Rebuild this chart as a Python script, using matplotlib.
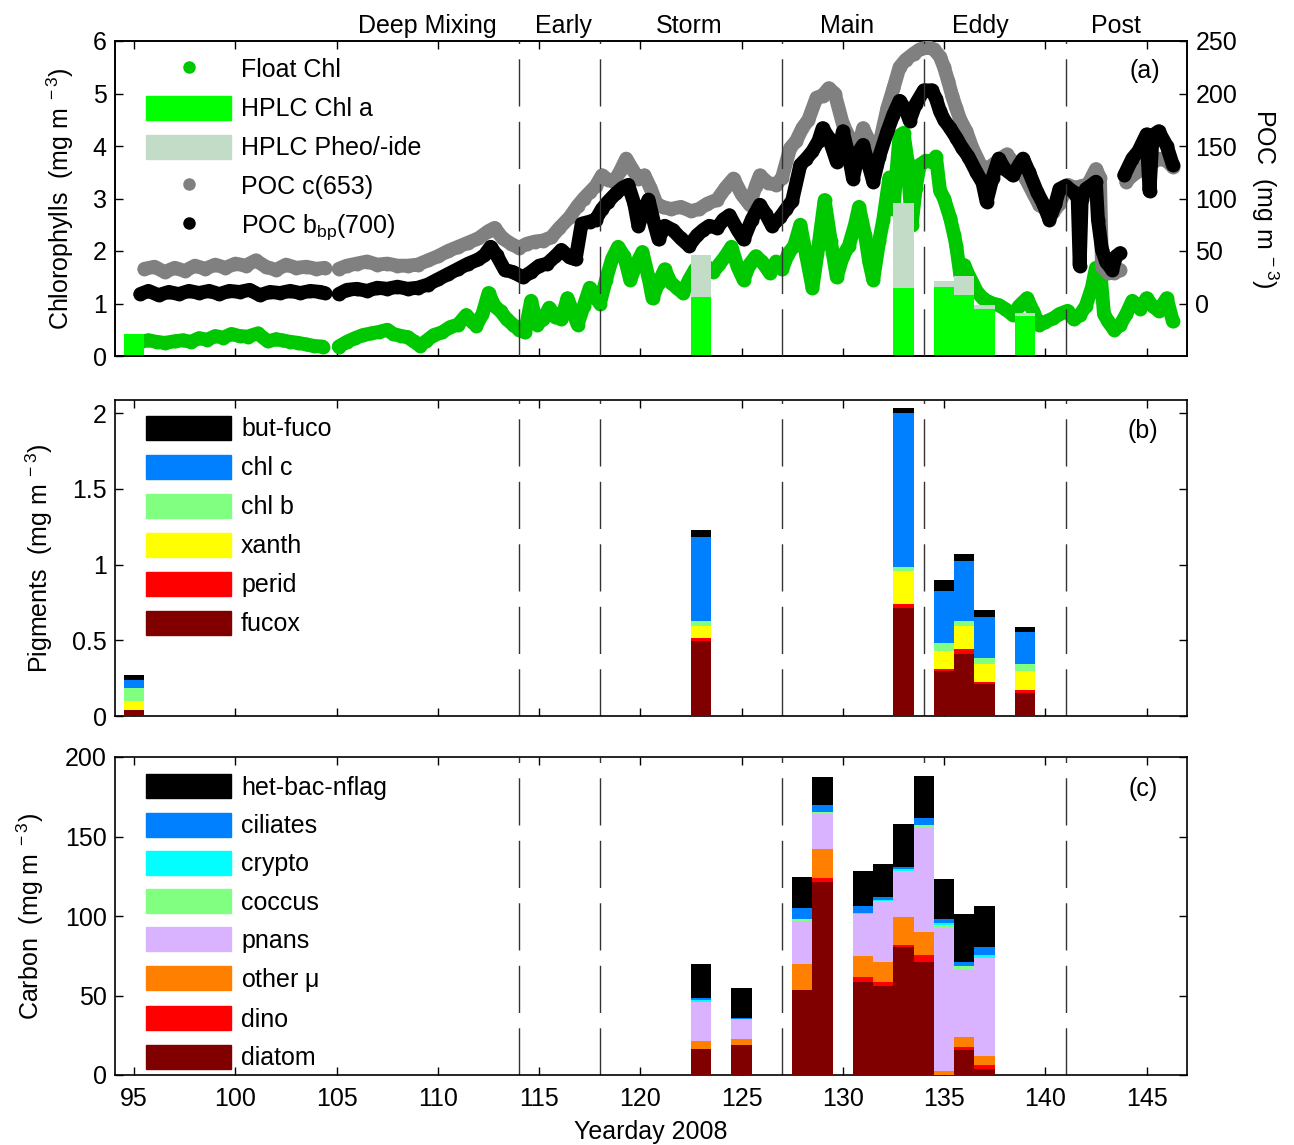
import numpy as np
import matplotlib
matplotlib.use("Agg")
import matplotlib.pyplot as plt
from matplotlib.patches import Patch
from matplotlib.lines import Line2D
from matplotlib.ticker import FuncFormatter
import matplotlib.transforms as mtransforms

plt.rcParams["font.family"] = ["Liberation Sans", "DejaVu Sans"]
plt.rcParams["mathtext.fontset"] = "custom"
plt.rcParams["mathtext.rm"] = "Liberation Sans"
plt.rcParams["mathtext.it"] = "Liberation Sans:italic"
plt.rcParams["mathtext.default"] = "regular"
plt.rcParams["font.size"] = 18

nan = float("nan")

# ---------------- float time series (panel a) ----------------
float_day = [95.3, 95.7, 96.1, 96.5, 97.0, 97.4, 97.8, 98.2, 98.6, 99.0, 99.4, 99.8,
             100.2, 100.6, 101.1, 101.6, 102.0, 102.3, 102.7, 103.1, 103.5, 103.9, 104.3,
             104.7,
             105.1, 105.5, 105.9, 106.3, 106.7, 107.1, 107.5, 107.8, 108.2, 108.5, 108.8,
             109.1, 109.4, 109.8, 110.2, 110.6, 111.0, 111.4, 111.7, 111.9, 112.2, 112.5,
             112.8, 113.1, 113.4, 113.7, 114.0, 114.3, 114.6, 114.9, 115.2, 115.5, 115.8,
             116.1, 116.4, 116.7, 116.9, 117.2, 117.5, 117.8, 118.0, 118.3, 118.6, 118.9,
             119.2, 119.5, 119.8, 120.1, 120.4, 120.6, 120.9, 121.2, 121.5, 121.8, 122.1,
             122.4, 122.7, 123.0, 123.3, 123.6, 123.9, 124.2, 124.5, 124.8, 125.1, 125.4,
             125.7, 126.0, 126.4, 126.7, 127.0, 127.3, 127.6, 127.9, 128.2, 128.5, 128.8,
             129.1, 129.4, 129.7, 130.0, 130.3, 130.6, 130.8, 131.1, 131.3, 131.5, 131.8,
             132.0, 132.3, 132.5, 132.8, 133.0, 133.2, 133.4, 133.6, 133.8, 134.1, 134.4,
             134.6, 134.8, 135.0, 135.3, 135.5, 135.6, 135.8, 136.0, 136.2, 136.4, 136.6,
             136.9, 137.1, 137.4, 137.7, 138.0, 138.4, 138.7, 139.1, 139.4, 139.7, 140.0,
             140.4, 140.7, 141.1, 141.4, 141.7, 142.0, 142.3, 142.5, 142.7, 142.9, 143.1,
             143.4, 143.7, 144.0, 144.3, 144.7, 145.0, 145.3, 145.6, 146.0, 146.3]
float_chl = [0.27, 0.30, 0.27, 0.25, 0.28, 0.30, 0.27, 0.34, 0.31, 0.38, 0.35, 0.42,
             0.38, 0.37, 0.43, 0.28, 0.32, 0.30, 0.27, 0.25, 0.22, 0.19, 0.18,
             nan,
             0.18, 0.27, 0.34, 0.40, 0.43, 0.46, 0.50, 0.42, 0.38, 0.36, 0.28,
             0.20, 0.28, 0.40, 0.45, 0.55, 0.60, 0.78, 0.65, 0.58, 0.80, 1.20,
             0.95, 0.85, 0.70, 0.60, 0.50, 0.45, 1.05, 0.60, 0.70, 0.92, 0.75,
             0.70, 1.10, 0.80, 0.60, 0.95, 1.30, 1.10, 1.00, 1.45, 1.85, 2.08,
             1.90, 1.45, 1.75, 1.98, 1.50, 1.10, 1.40, 1.65, 1.40, 1.30, 1.20,
             1.45, 1.65, 1.50, 1.70, 1.60, 1.75, 1.90, 2.08, 1.70, 1.45, 1.75,
             1.90, 1.80, 1.58, 1.80, 1.65, 1.95, 2.10, 2.50, 1.90, 1.30, 2.10,
             2.97, 2.20, 1.50, 1.90, 2.10, 2.50, 2.84, 2.30, 1.80, 1.45, 2.20,
             2.60, 3.40, 2.80, 4.20, 4.25, 3.70, 2.50, 3.20, 3.64, 3.72, 3.70,
             3.80, 3.15, 3.00, 2.63, 2.30, 2.10, 1.55, 1.73, 1.55, 1.40, 1.24,
             1.10, 1.05, 1.00, 0.97, 0.90, 0.78, 0.95, 1.10, 0.85, 0.59, 0.65,
             0.72, 0.80, 0.86, 0.70, 0.78, 0.95, 1.30, 1.68, 1.70, 0.80, 0.66,
             0.50, 0.59, 0.80, 1.05, 0.90, 1.10, 0.95, 0.86, 1.10, 0.66]

poc_c_day = [95.5, 96.0, 96.5, 97.0, 97.5, 98.0, 98.5, 99.0, 99.5, 100.0, 100.5, 101.0,
             101.5, 102.0, 102.5, 103.0, 103.5, 104.0, 104.4, 104.7,
             105.1, 105.5, 106.0, 106.5, 107.0, 107.5, 108.0, 108.5, 109.0, 109.5, 110.0,
             110.5, 111.0, 111.5, 112.0, 112.5, 112.8, 113.2, 113.6, 114.0, 114.4, 114.8,
             115.2, 115.6, 116.0, 116.5, 116.9, 117.2, 117.5, 117.8, 118.1, 118.4, 118.7,
             119.0, 119.3, 119.6, 119.9, 120.2, 120.5, 120.8, 121.1, 121.5, 122.0, 122.5,
             122.9, 123.3, 123.8, 124.2, 124.6, 125.0, 125.4, 125.7, 125.9, 126.3, 126.7,
             127.0, 127.4, 127.7, 128.0, 128.3, 128.7, 129.0, 129.3, 129.6, 130.0, 130.4,
             130.7, 131.0, 131.3, 131.6, 131.9, 132.2, 132.5, 132.8, 133.1, 133.5, 133.8,
             134.2, 134.5, 134.8, 135.0, 135.2, 135.4, 135.6, 135.8, 136.1, 136.4, 136.8,
             137.1, 137.4, 137.8, 138.1, 138.4, 138.7, 139.0, 139.4, 139.7, 140.0, 140.4,
             140.7, 141.1, 141.5, 141.8, 142.1, 142.5, 142.7, 142.8, 143.1, 143.4, 143.7,
             143.85,
             144.0, 144.3, 144.7, 145.0, 145.3, 145.6, 146.0, 146.3]
poc_c = [33, 35, 30, 34, 31, 36, 33, 37, 34, 38, 36, 41,
         35, 32, 37, 34, 35, 33, 34, nan,
         33, 36, 38, 40, 37, 38, 36, 36, 37, 41, 45,
         50, 54, 58, 62, 69, 72, 62, 57, 53, 57, 59,
         60, 63, 72, 82, 93, 100, 106, 112, 122, 118, 116,
         126, 138, 128, 119, 122, 110, 95, 92, 90, 92, 88,
         90, 95, 99, 110, 119, 104, 94, 112, 122, 115, 113,
         120, 148, 155, 167, 175, 196, 198, 205, 200, 171, 155,
         145, 167, 155, 140, 160, 186, 205, 225, 232, 238, 242,
         244, 242, 235, 225, 212, 198, 186, 175, 164, 148, 132,
         128, 132, 138, 142, 135, 132, 120, 105, 94, 90, 87,
         95, 113, 110, 112, 113, 128, 120, 35, 29, 29, 32,
         nan,
         116, 122, 127, 133, 135, 138, 136, 130]

poc_b_day = [95.3, 95.7, 96.2, 96.7, 97.2, 97.7, 98.2, 98.7, 99.2, 99.7, 100.2, 100.7,
             101.2, 101.7, 102.2, 102.7, 103.2, 103.7, 104.2, 104.4, 104.7,
             105.1, 105.5, 106.0, 106.5, 107.0, 107.5, 108.0, 108.5, 109.0, 109.5, 110.0,
             110.5, 111.0, 111.5, 112.0, 112.3, 112.6, 112.9, 113.3, 113.7, 114.2, 114.6,
             115.0, 115.4, 115.8, 116.1, 116.5, 116.8, 117.1, 117.5, 117.8, 118.1, 118.4,
             118.8, 119.1, 119.4, 119.7, 119.9, 120.2, 120.4, 120.7, 120.9, 121.2, 121.6,
             122.0, 122.4, 122.8, 123.1, 123.4, 123.8, 124.1, 124.4, 124.8, 125.1, 125.5,
             125.9, 126.2, 126.5, 126.9, 127.2, 127.5, 127.9, 128.2, 128.5, 128.8, 129.0,
             129.3, 129.7, 130.0, 130.3, 130.5, 130.8, 131.0, 131.3, 131.5, 131.8, 132.2,
             132.5, 132.8, 133.1, 133.3, 133.6, 134.0, 134.4, 134.6, 134.8, 135.0, 135.3,
             135.6, 135.9, 136.2, 136.6, 136.9, 137.1, 137.4, 137.7, 138.0, 138.4, 138.7,
             138.9, 139.2, 139.6, 139.9, 140.2, 140.5, 140.7, 141.0, 141.4, 141.6, 141.7,
             141.8, 142.0, 142.3, 142.5, 142.6, 142.8, 143.0, 143.3, 143.5, 143.7, 143.8,
             143.9, 144.3, 144.6, 145.0, 145.15, 145.3, 145.6, 146.0, 146.3]
poc_b = [9, 12, 8, 11, 9, 12, 10, 12, 9, 12, 11, 13,
         8, 11, 10, 12, 10, 12, 11, 10, nan,
         9, 13, 14, 12, 15, 14, 16, 14, 15, 18, 23,
         28, 33, 38, 42, 46, 54, 46, 32, 30, 25, 30,
         36, 38, 45, 51, 44, 42, 76, 78, 80, 90, 97,
         105, 110, 113, 95, 74, 90, 99, 75, 61, 74, 70,
         62, 55, 65, 70, 74, 72, 80, 84, 70, 61, 80,
         94, 85, 74, 82, 90, 98, 132, 138, 145, 155, 167,
         158, 135, 164, 140, 119, 145, 151, 130, 116, 140, 164,
         180, 193, 185, 174, 190, 203, 203, 195, 183, 175, 167,
         158, 148, 140, 125, 115, 97, 120, 138, 128, 122, 132,
         138, 125, 106, 95, 80, 95, 109, 112, 106, 100, 36,
         100, 109, 113, 116, 80, 51, 40, 32, 45, 48, nan,
         122, 138, 145, 161, 107, 160, 164, 150, 132]

# ---------------- HPLC bottle samples ----------------
hplc_day = [95, 123, 133, 135, 136, 137, 139]
hplc_chla = [0.42, 1.12, 1.30, 1.31, 1.17, 0.89, 0.77]
hplc_pheo = [0.00, 0.80, 1.61, 0.12, 0.36, 0.08, 0.04]

# ---------------- marker pigments (panel b) ----------------
pig_day = [95, 123, 133, 135, 136, 137, 139]
fucox = [0.040, 0.495, 0.713, 0.297, 0.409, 0.211, 0.152]
perid = [0.000, 0.020, 0.026, 0.013, 0.033, 0.013, 0.020]
xanth = [0.060, 0.080, 0.218, 0.119, 0.154, 0.121, 0.125]
chl_b = [0.088, 0.033, 0.026, 0.053, 0.033, 0.038, 0.046]
chl_c = [0.051, 0.552, 1.017, 0.343, 0.394, 0.270, 0.211]
but_fuco = [0.033, 0.047, 0.033, 0.073, 0.046, 0.047, 0.033]

# ---------------- plankton carbon (panel c) ----------------
carb_day = [123, 125, 128, 129, 131, 132, 133, 134, 135, 136, 137]
diatom = [16.5, 19.0, 53.4, 121.5, 58.2, 55.7, 80.4, 70.9, 0.0, 15.8, 3.8]
dino = [0.0, 0.0, 0.0, 2.5, 3.2, 2.5, 1.2, 4.4, 0.0, 1.9, 2.5]
other_mu = [5.0, 3.8, 16.2, 18.4, 13.3, 12.7, 17.8, 14.6, 2.5, 6.3, 5.7]
pnans = [24.5, 12.2, 27.2, 21.5, 26.6, 38.6, 29.1, 65.8, 89.9, 42.5, 61.4]
coccus = [0.0, 0.0, 1.3, 1.2, 0.0, 0.0, 0.0, 1.3, 1.9, 1.9, 0.0]
crypto = [1.3, 0.3, 0.0, 0.5, 0.5, 0.5, 1.2, 0.3, 1.3, 0.0, 1.9]
ciliates = [1.4, 0.3, 7.0, 4.4, 4.5, 2.0, 1.3, 4.1, 2.5, 2.5, 5.1]
het_bac_nflag = [20.9, 19.4, 19.6, 17.7, 22.2, 20.9, 26.6, 26.6, 25.3, 30.4, 25.9]

# ---------------- phases ----------------
phase_bounds = [114, 118, 127, 134, 141]
phase_names = ["Deep Mixing", "Early", "Storm", "Main", "Eddy", "Post"]
phase_mid = [109.5, 116.2, 122.4, 130.2, 136.8, 143.5]

x_ticks = list(range(95, 150, 5))

# ---------------- colours ----------------
c_float = "#00c800"
c_chla = "#00ff00"
c_pheo = "#c2dcc8"
c_pocc = "#808080"
c_pocb = "#000000"
pig_colors = {"fucox": "#800000", "perid": "#ff0000", "xanth": "#ffff00",
              "chl b": "#80ff80", "chl c": "#0080ff", "but-fuco": "#000000"}
carb_colors = {"diatom": "#800000", "dino": "#ff0000", "other $\\mu$": "#ff8000",
               "pnans": "#d9b3ff", "coccus": "#80ff80", "crypto": "#00ffff",
               "ciliates": "#0080ff", "het-bac-nflag": "#000000"}

unit = "(mg m$^{\\ -3}$)"

fig = plt.figure(figsize=(12.94, 11.45), dpi=100)
W, H = 1294.0, 1145.0
L, R = 115, 1187


def make_axes(top, bottom):
    return fig.add_axes([L / W, 1 - bottom / H, (R - L) / W, (bottom - top) / H])


ax_a = make_axes(41, 356)
ax_b = make_axes(400, 716)
ax_c = make_axes(757, 1075)

for ax in (ax_a, ax_b, ax_c):
    ax.set_xlim(94.05, 147.0)
    ax.set_xticks(x_ticks)
    ax.tick_params(direction="in", length=6, width=1, top=True, right=True, pad=6)
    ax.tick_params(axis="x", pad=9)
    for s in ax.spines.values():
        s.set_linewidth(1.2)

bar_w = 1.0
line_kw = dict(lw=10, ms=10, mew=0, solid_capstyle="round", solid_joinstyle="round")
leg_kw = dict(loc="upper left", frameon=False, handlelength=3.4, handleheight=1.1,
              handletextpad=0.4, borderpad=0, borderaxespad=0)

# ---- panel (a) ----
ax_a.plot(float_day, float_chl, "-o", color=c_float, zorder=2, **line_kw)
ax_a.bar(hplc_day, hplc_chla, width=bar_w, color=c_chla, zorder=5, linewidth=0)
ax_a.bar(hplc_day, hplc_pheo, width=bar_w, bottom=hplc_chla, color=c_pheo,
         zorder=5, linewidth=0)
ax_a.set_ylim(0, 6)
ax_a.set_yticks(range(0, 7))
ax_a.tick_params(right=False, labelbottom=False)
ax_a.set_ylabel("Chlorophylls  " + unit, va="center")
ax_a.yaxis.set_label_coords(-0.051, 0.5)

ax_p = ax_a.twinx()
ax_p.set_zorder(ax_a.get_zorder() + 1)
ax_p.patch.set_visible(False)
ax_p.plot(poc_c_day, poc_c, "-o", color=c_pocc, zorder=3, **line_kw)
ax_p.plot(poc_b_day, poc_b, "-o", color=c_pocb, zorder=4, **line_kw)
ax_p.set_ylim(-50, 250)
ax_p.set_yticks(range(0, 300, 50))
ax_p.tick_params(direction="in", length=6, width=1, pad=6)
ax_p.set_ylabel("POC  " + unit, rotation=270, va="center")
ax_p.yaxis.set_label_coords(1.0725, 0.5)
for s in ax_p.spines.values():
    s.set_linewidth(1.2)
for b in phase_bounds:
    ax_p.axvline(b, color="#333333", lw=1.0, ls=(0, (34, 11)), zorder=6)

trans = mtransforms.blended_transform_factory(ax_a.transData, ax_a.transAxes)
for name, xm in zip(phase_names, phase_mid):
    ax_a.text(xm, 1.008, name, transform=trans, ha="center", va="bottom")

ax_p.text(0.975, 0.905, "(a)", transform=ax_p.transAxes, ha="right", va="center")

leg_a = [Line2D([], [], ls="none", marker="o", ms=9, mew=0, color=c_float),
         Patch(color=c_chla), Patch(color=c_pheo),
         Line2D([], [], ls="none", marker="o", ms=9, mew=0, color=c_pocc),
         Line2D([], [], ls="none", marker="o", ms=9, mew=0, color=c_pocb)]
lab_a = ["Float Chl", "HPLC Chl a", "HPLC Pheo/-ide", "POC c(653)",
         "POC b$_{bp}$(700)"]
ax_p.legend(leg_a, lab_a, bbox_to_anchor=(0.029, 0.95), labelspacing=0.54, **leg_kw)

# ---- panel (b) ----
pig_series = [("fucox", fucox), ("perid", perid), ("xanth", xanth),
              ("chl b", chl_b), ("chl c", chl_c), ("but-fuco", but_fuco)]
base = np.zeros(len(pig_day))
for name, vals in pig_series:
    v = np.array(vals)
    ax_b.bar(pig_day, v, width=bar_w, bottom=base, color=pig_colors[name],
             linewidth=0, zorder=3)
    base = base + v
for b in phase_bounds:
    ax_b.axvline(b, color="#333333", lw=1.0, ls=(0, (34, 11)), zorder=2)
ax_b.set_ylim(0, 2.087)
ax_b.set_yticks([0, 0.5, 1, 1.5, 2])
ax_b.yaxis.set_major_formatter(FuncFormatter(lambda v, p: f"{v:g}"))
ax_b.tick_params(labelbottom=False)
ax_b.set_ylabel("Pigments  " + unit, va="center")
ax_b.yaxis.set_label_coords(-0.071, 0.5)
ax_b.text(0.973, 0.902, "(b)", transform=ax_b.transAxes, ha="right", va="center")
order_b = ["but-fuco", "chl c", "chl b", "xanth", "perid", "fucox"]
ax_b.legend([Patch(color=pig_colors[n]) for n in order_b], order_b,
            bbox_to_anchor=(0.029, 0.95), labelspacing=0.54, **leg_kw)

# ---- panel (c) ----
carb_series = [("diatom", diatom), ("dino", dino), ("other $\\mu$", other_mu),
               ("pnans", pnans), ("coccus", coccus), ("crypto", crypto),
               ("ciliates", ciliates), ("het-bac-nflag", het_bac_nflag)]
base = np.zeros(len(carb_day))
for name, vals in carb_series:
    v = np.array(vals)
    ax_c.bar(carb_day, v, width=bar_w, bottom=base, color=carb_colors[name],
             linewidth=0, zorder=3)
    base = base + v
for b in phase_bounds:
    ax_c.axvline(b, color="#333333", lw=1.0, ls=(0, (34, 11)), zorder=2)
ax_c.set_ylim(0, 200)
ax_c.set_yticks(range(0, 250, 50))
ax_c.set_ylabel("Carbon  " + unit, va="center")
ax_c.yaxis.set_label_coords(-0.079, 0.5)
ax_c.set_xlabel("Yearday 2008", labelpad=6)
ax_c.text(0.973, 0.899, "(c)", transform=ax_c.transAxes, ha="right", va="center")
order_c = [n for n, _ in carb_series][::-1]
ax_c.legend([Patch(color=carb_colors[n]) for n in order_c], order_c,
            bbox_to_anchor=(0.029, 0.945), labelspacing=0.51, **leg_kw)

fig.savefig("out.png", dpi=100)
